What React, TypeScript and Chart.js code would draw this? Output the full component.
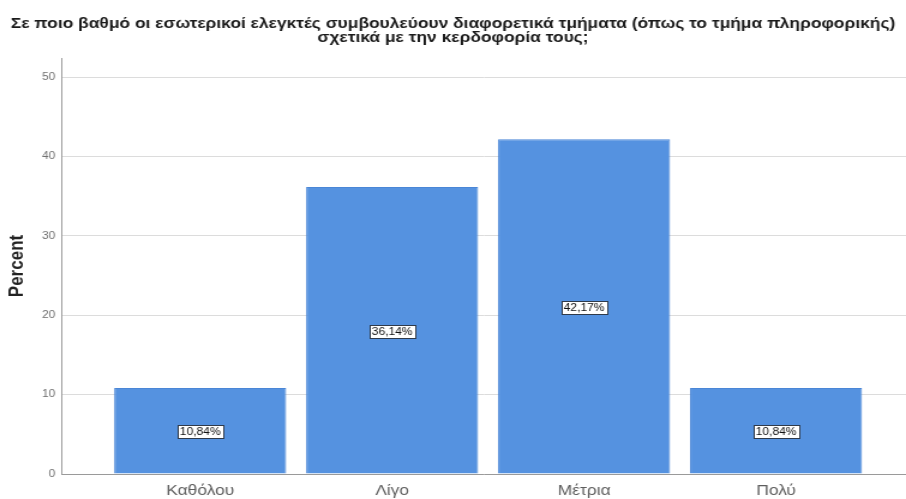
import React, { useEffect, useRef } from "react";
import { Chart, registerables } from "chart.js";

Chart.register(...registerables);

// Survey answer categories and the share of respondents (%) for each
const categories = ["Καθόλου", "Λίγο", "Μέτρια", "Πολύ"];
const percentValues = [10.84, 36.14, 42.17, 10.84];
const yTickValues = [0, 10, 20, 30, 40, 50];
const titleLines = [
  "Σε ποιο βαθμό οι εσωτερικοί ελεγκτές συμβουλεύουν διαφορετικά τμήματα (όπως το τμήμα πληροφορικής)",
  "σχετικά με την κερδοφορία τους;",
];
const yAxisTitle = "Percent";

// The drawing surface is rendered narrower and widened with CSS
const CANVAS_W = 755;
const CANVAS_H = 499;
const DISPLAY_W = 906;

const FONT = '"Liberation Sans", Arial, sans-serif';

const formatPercent = (v: number) => v.toFixed(2).replace(".", ",") + "%";

// Two-line heading above the plot
const titlePlugin = {
  id: "twoLineTitle",
  afterDraw(chart: any) {
    const ctx = chart.ctx;
    ctx.save();
    ctx.font = `bold 14.5px ${FONT}`;
    ctx.fillStyle = "#1a1a1a";
    ctx.textAlign = "center";
    ctx.textBaseline = "middle";
    const cx = chart.width / 2;
    titleLines.forEach((line, i) => {
      ctx.fillText(line, cx, 24 + i * 14);
    });
    ctx.restore();
  },
};

// Boxed value labels in the middle of each bar
const valueLabelPlugin = {
  id: "valueLabels",
  afterDatasetsDraw(chart: any) {
    const ctx = chart.ctx;
    const meta = chart.getDatasetMeta(0);
    ctx.save();
    ctx.font = `10px ${FONT}`;
    ctx.textAlign = "center";
    ctx.textBaseline = "middle";
    meta.data.forEach((bar: any, i: number) => {
      const text = formatPercent(percentValues[i]);
      const cx = bar.x;
      const cy = (bar.y + bar.base) / 2 + 1;
      const w = Math.round(ctx.measureText(text).width + 4);
      const h = 13;
      const bx = Math.round(cx - w / 2) + 0.5;
      const by = Math.round(cy - h / 2) + 0.5;
      ctx.fillStyle = "#ffffff";
      ctx.fillRect(bx, by, w, h);
      ctx.strokeStyle = "#2f3a4a";
      ctx.lineWidth = 1;
      ctx.strokeRect(bx, by, w, h);
      ctx.fillStyle = "#111111";
      ctx.fillText(text, cx, cy + 1);
    });
    ctx.restore();
  },
};

export default function App() {
  const canvasRef = useRef<HTMLCanvasElement | null>(null);

  useEffect(() => {
    if (!canvasRef.current) return;
    const chart = new Chart(canvasRef.current, {
      type: "bar",
      data: {
        datasets: [
          {
            data: percentValues.map((v, i) => ({ x: i, y: v })),
            backgroundColor: "#5592E0",
            borderColor: "#4A86D6",
            borderWidth: 1,
            categoryPercentage: 1,
            barPercentage: 0.896,
          },
        ],
      },
      options: {
        animation: false,
        responsive: false,
        devicePixelRatio: 1,
        layout: { padding: { top: 58, left: 0, right: 0, bottom: 0 } },
        plugins: {
          legend: { display: false },
          tooltip: { enabled: false },
          title: { display: false },
        },
        scales: {
          x: {
            type: "linear",
            offset: false,
            min: -0.724,
            max: 3.677,
            afterBuildTicks(scale: any) {
              scale.ticks = categories.map((_, i) => ({ value: i }));
            },
            afterFit(scale: any) {
              scale.height = 25;
            },
            ticks: {
              callback: (v: any) => categories[v] ?? "",
              color: "#5e5e5e",
              font: { family: FONT, size: 14.5 },
              padding: 8,
              maxRotation: 0,
              autoSkip: false,
            },
            grid: { display: false, drawTicks: false, offset: false },
            border: { display: true, color: "#9a9a9a", width: 1 },
          },
          y: {
            type: "linear",
            min: 0,
            max: 52.4,
            afterBuildTicks(scale: any) {
              scale.ticks = yTickValues.map((v) => ({ value: v }));
            },
            afterFit(scale: any) {
              scale.width = 51;
            },
            ticks: {
              color: "#707070",
              font: { family: FONT, size: 10 },
              padding: 5,
            },
            grid: { color: "#dcdcdc", lineWidth: 1, drawTicks: false },
            border: { display: true, color: "#9a9a9a", width: 1 },
            title: {
              display: true,
              text: yAxisTitle,
              color: "#222222",
              font: { family: FONT, size: 17, weight: "bold" },
              padding: { top: 4, bottom: 0 },
            },
          },
        },
      },
      plugins: [titlePlugin, valueLabelPlugin],
    } as any);
    return () => chart.destroy();
  }, []);

  return (
    <div
      style={{
        position: "fixed",
        left: 0,
        top: 0,
        width: DISPLAY_W,
        height: CANVAS_H,
        background: "#ffffff",
      }}
    >
      <canvas
        ref={canvasRef}
        width={CANVAS_W}
        height={CANVAS_H}
        style={{ width: `${DISPLAY_W}px`, height: `${CANVAS_H}px`, display: "block" }}
      />
    </div>
  );
}
